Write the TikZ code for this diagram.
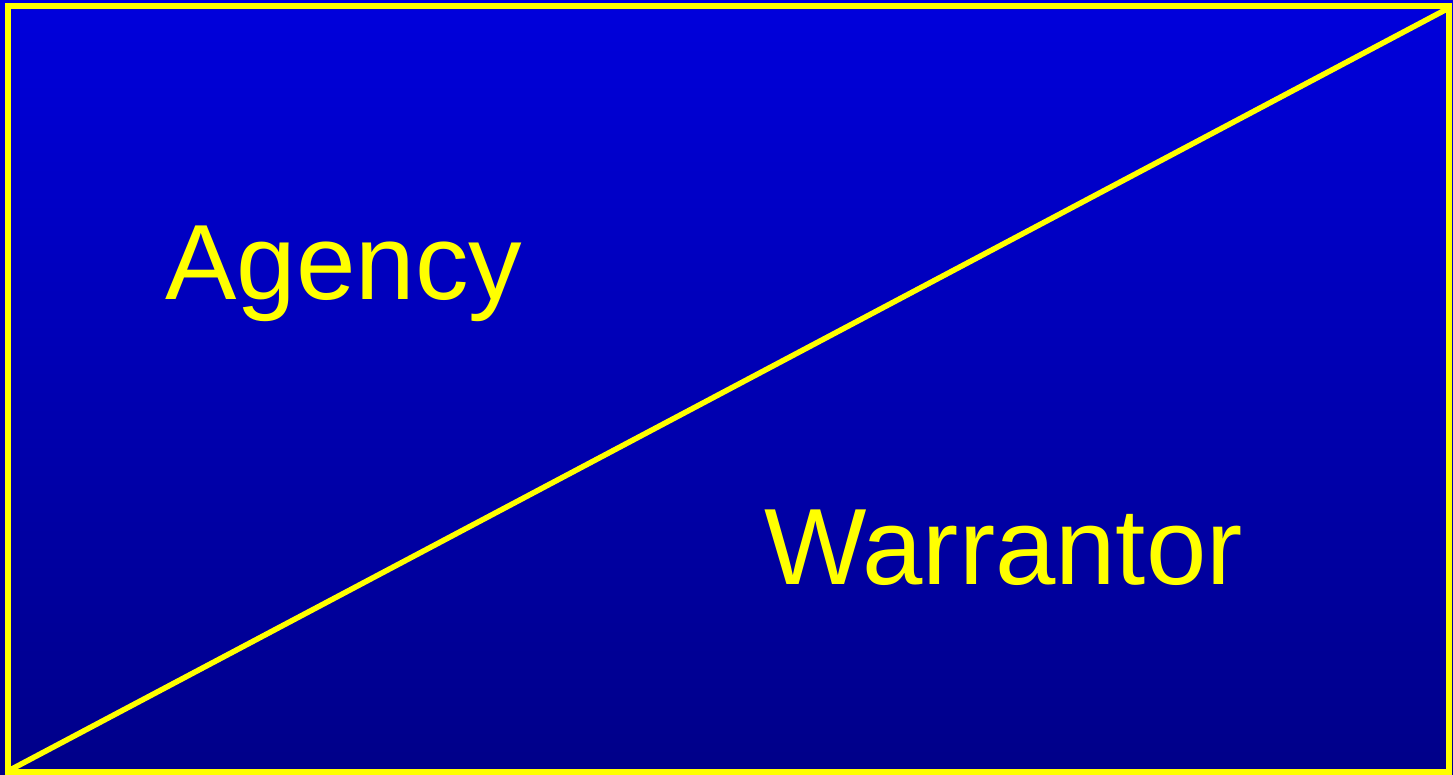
\documentclass[tikz,border=0pt]{standalone}
\usepackage{fontspec}
\setmainfont{Liberation Sans}
\definecolor{bgtop}{RGB}{0,0,220}
\definecolor{bgbot}{RGB}{0,0,136}
\definecolor{ylw}{RGB}{255,255,0}
\tikzset{
  frameline/.style={draw=ylw, line width=6.5pt},
  diagline/.style={draw=ylw, line width=5.5pt},
  bigword/.style={text=ylw, anchor=base west, inner sep=0pt, font=\fontsize{107}{120}\selectfont},
  bigwordw/.style={bigword, font=\fontsize{108.5}{120}\selectfont}
}
\begin{document}
\begin{tikzpicture}[x=1pt,y=-1pt]
\useasboundingbox (0,0) rectangle (1453,775);
\shade[top color=bgtop, bottom color=bgbot] (0,0) rectangle (1453,775);
\coordinate (tl) at (8,6);
\coordinate (br) at (1449,772);
\coordinate (bl) at (10,770);
\coordinate (tr) at (1447,9);
\draw[frameline] (tl) rectangle (br);
\draw[diagline] (bl) -- (tr);
\node[bigword] (agency) at (165,300) {Agency};
\node[bigwordw] (warrantor) at (764,584) {Warrantor};
\end{tikzpicture}
\end{document}
